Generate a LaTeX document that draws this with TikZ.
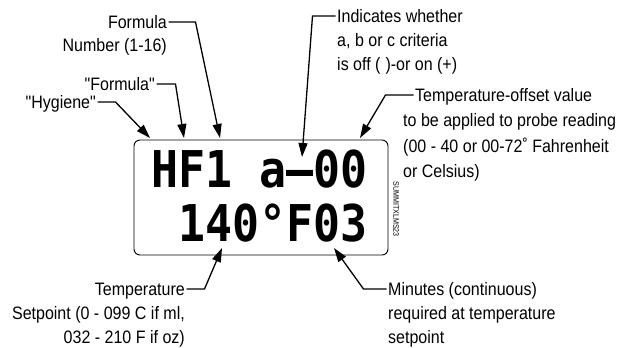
\documentclass[tikz,border=0pt]{standalone}
\usepackage{fontspec}
\setmainfont{Liberation Sans}[FakeStretch=0.89, Ligatures=TeXOff]
\newfontfamily\lcdfont{DejaVu Sans Mono}[FakeStretch=0.885]
\usetikzlibrary{arrows.meta}
\begin{document}
\begin{tikzpicture}[x=1pt,y=-1pt,
  lbl/.style={font=\fontsize{18}{24}\selectfont, inner sep=0pt},
  lcd/.style={font=\lcdfont\bfseries\fontsize{50.7}{50}\selectfont, inner sep=0pt, anchor=base west},
  callout/.style={line width=1.3pt, -{Triangle[length=14pt,width=9pt]}, line join=miter}]
\useasboundingbox (0,0) rectangle (632,348);
\fill[white] (0,0) rectangle (632,348);
% display
\node[draw, line width=0.9pt, rounded corners=6pt, minimum width=254pt, minimum height=115pt, inner sep=0pt] (lcdbox) at (261,197.5) {};
\node[lcd] (row1) at (151,187) {HF1 a–00};
\node[lcd] (row2) at (178,241) {140°F03};
\node[font=\fontsize{8}{8}\selectfont, rotate=-90, inner sep=0pt] (code) at (396,209) {SUMMITXLMS23};
% labels top left
\node[lbl, anchor=base east] (fm1) at (167,28) {Formula};
\node[lbl, anchor=base east] (fm2) at (167,51) {Number (1-16)};
\node[lbl, anchor=base east] (fq) at (155,90) {"Formula"};
\node[lbl, anchor=base east] (hy) at (96,108) {"Hygiene"};
% labels top right
\node[lbl, anchor=base west] (in1) at (337,22) {Indicates whether};
\node[lbl, anchor=base west] (in2) at (337,46) {a, b or c criteria};
\node[lbl, anchor=base west] (in3) at (337,70) {is off (\hspace{5pt})-or on (+)};
\node[lbl, anchor=base west] (to1) at (415,101) {Temperature-offset value};
\node[lbl, anchor=base west] (to2) at (403,126) {to be applied to probe reading};
\node[lbl, anchor=base west] (to3) at (403,152) {(00 - 40 or 00-72˚ Fahrenheit};
\node[lbl, anchor=base west] (to4) at (403,177) {or Celsius)};
% labels bottom
\node[lbl, anchor=base east] (tp1) at (185,295) {Temperature};
\node[lbl, anchor=base east] (tp2) at (185,319) {Setpoint (0 - 099 C if ml,};
\node[lbl, anchor=base east] (tp3) at (185,343) {032 - 210 F if oz)};
\node[lbl, anchor=base west] (mn1) at (388,295) {Minutes (continuous)};
\node[lbl, anchor=base west] (mn2) at (388,319) {required at temperature};
\node[lbl, anchor=base west] (mn3) at (388,343) {setpoint};
% arrow tips
\coordinate (tipH) at (150,138);
\coordinate (tipF) at (184,138);
\coordinate (tipN) at (220,138);
\coordinate (tipC) at (302,157);
\coordinate (tipO) at (360,138);
\coordinate (tipT) at (222,248);
\coordinate (tipM) at (334,248);
% connectors
\draw[callout] ([xshift=1.5pt,yshift=6pt]fm1.base east) -- ++(27,0) -- (tipN);
\draw[callout] ([xshift=1.5pt,yshift=6pt]fq.base east) -- ++(19,0) -- (tipF);
\draw[callout] ([xshift=1.5pt,yshift=6pt]hy.base east) -- ++(18,0) -- (tipH);
\draw[callout] ([xshift=-1.5pt,yshift=6pt]in1.base west) -- ++(-23,0) -- (tipC);
\draw[callout] ([xshift=-1.5pt,yshift=6pt]to1.base west) -- ++(-28,0) -- (tipO);
\draw[callout] ([xshift=1.5pt,yshift=6pt]tp1.base east) -- ++(18,0) -- (tipT);
\draw[callout] ([xshift=-1.5pt,yshift=6pt]mn1.base west) -- ++(-23,0) -- (tipM);
\end{tikzpicture}
\end{document}
